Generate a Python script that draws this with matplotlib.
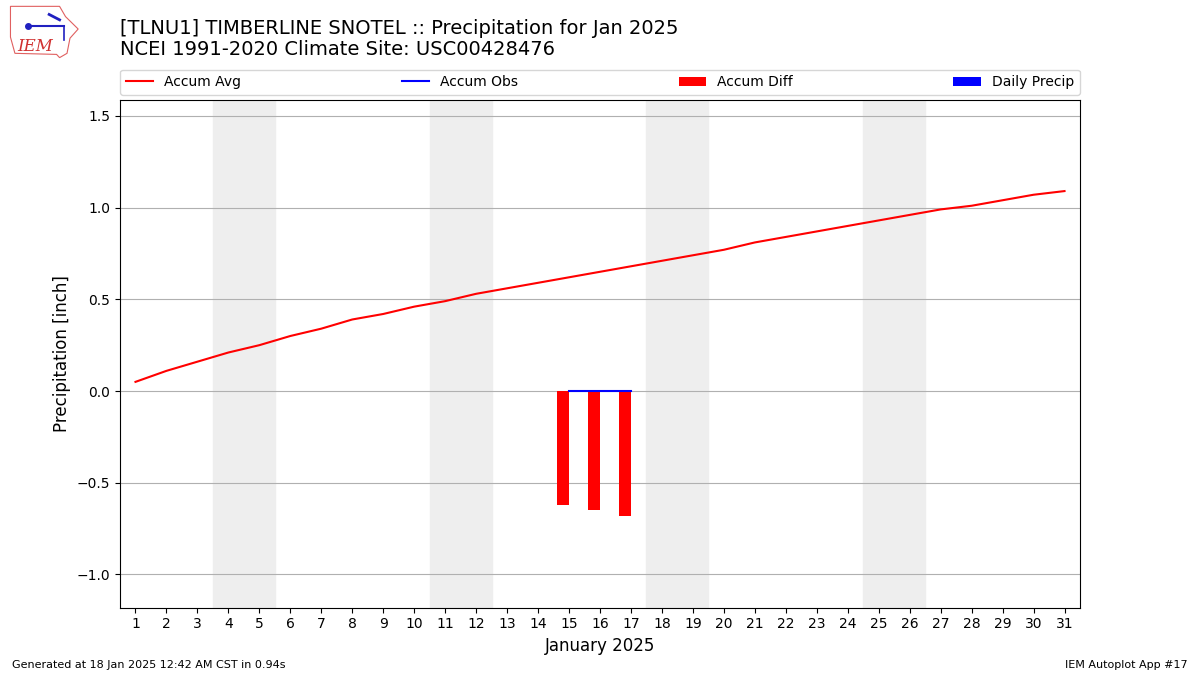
import numpy as np
import matplotlib.pyplot as plt
from matplotlib.patches import Polygon

# daily data for Jan 2025
days = np.arange(1, 32)
accum_avg = [0.05, 0.11, 0.16, 0.21, 0.25, 0.30, 0.34, 0.39, 0.42, 0.46,
             0.49, 0.53, 0.56, 0.59, 0.62, 0.65, 0.68, 0.71, 0.74, 0.77,
             0.81, 0.84, 0.87, 0.90, 0.93, 0.96, 0.99, 1.01, 1.04, 1.07, 1.09]
obs_days = [15, 16, 17]
accum_obs = [0.0, 0.0, 0.0]
daily_precip = [0.0, 0.0, 0.0]
weekend_starts = [4, 11, 18, 25]

avg_on_obs = [accum_avg[d - 1] for d in obs_days]
accum_diff = [o - a for o, a in zip(accum_obs, avg_on_obs)]

fig = plt.figure(figsize=(12, 6.75), dpi=100)
ax = fig.add_axes([0.1, 0.1, 0.8, 0.752])

for d in weekend_starts:
    ax.axvspan(d - 0.5, d + 1.5, color='#eeeeee', zorder=0)

ax.plot(days, accum_avg, color='r', label='Accum Avg', zorder=3)
ax.plot(obs_days, accum_obs, color='b', label='Accum Obs', zorder=4)
ax.bar(np.array(obs_days) - 0.4, accum_diff, width=0.4, align='edge',
       color='r', label='Accum Diff', zorder=3)
ax.bar(obs_days, daily_precip, width=0.4, color='b', label='Daily Precip', zorder=3)

ax.set_xlim(0.5, 31.5)
ax.set_ylim(-1.18, 1.587)
ax.set_xticks(days)
ax.set_yticks([-1.0, -0.5, 0.0, 0.5, 1.0, 1.5])
ax.grid(axis='y', color='#b0b0b0', zorder=1)
ax.set_axisbelow(True)
ax.set_xlabel('January 2025', fontsize=12)
ax.set_ylabel('Precipitation [inch]', fontsize=12)

ax.legend(loc='lower left', bbox_to_anchor=(0, 1.01, 1, 0.05), ncol=4,
          mode='expand', borderaxespad=0, fontsize=10)

fig.text(0.1, 0.958, '[TLNU1] TIMBERLINE SNOTEL :: Precipitation for Jan 2025',
         fontsize=14, va='center')
fig.text(0.1, 0.926, 'NCEI 1991-2020 Climate Site: USC00428476',
         fontsize=14, va='center')

fig.text(0.01, 0.01, 'Generated at 18 Jan 2025 12:42 AM CST in 0.94s', fontsize=8)
fig.text(0.99, 0.01, 'IEM Autoplot App #17', fontsize=8, ha='right')

# rough IEM logo
lax = fig.add_axes([0.005, 0.913, 0.062, 0.08])
lax.axis('off')
lax.set_xlim(0, 1)
lax.set_ylim(0, 1)
iowa = [(0.06, 0.97), (0.72, 0.97), (0.8, 0.78), (0.97, 0.55), (0.86, 0.38),
        (0.82, 0.1), (0.72, 0.02), (0.68, 0.08), (0.12, 0.1), (0.06, 0.4)]
lax.add_patch(Polygon(iowa, closed=True, fill=False, ec='#e06060', lw=0.8))
lax.plot([0.3, 0.78], [0.6, 0.6], color='#2020c0', lw=1.5)
lax.plot([0.3], [0.6], 'o', color='#2020c0', ms=4)
lax.plot([0.58, 0.72], [0.82, 0.72], color='#2020c0', lw=2)
lax.plot([0.78, 0.78], [0.6, 0.35], color='#2020c0', lw=1.2)
lax.text(0.15, 0.15, 'IEM', color='#d03030', fontsize=12, style='italic',
         family='serif')

fig.savefig('out.png')
